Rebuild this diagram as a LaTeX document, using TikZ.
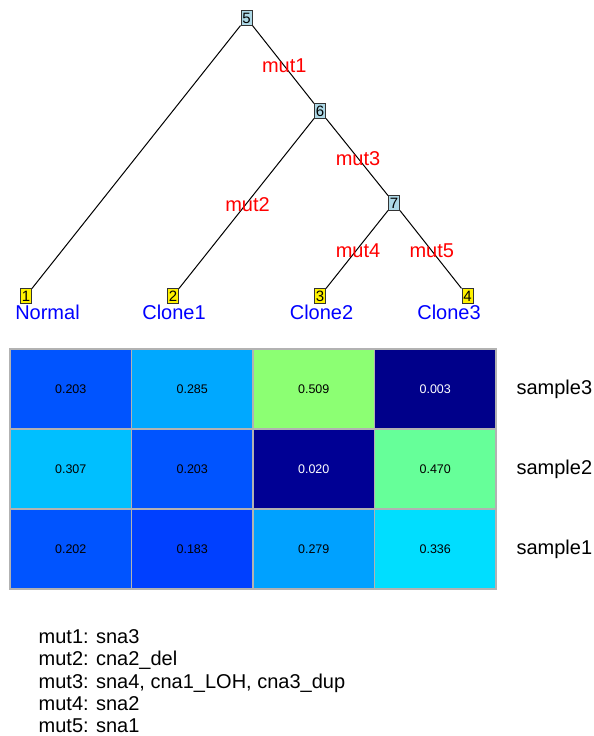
\documentclass[tikz,border=0pt]{standalone}
\usepackage{fontspec}
\setmainfont{Liberation Sans}
\newcommand\labfont{\fontsize{20}{24}\selectfont}
\definecolor{nodeblue}{HTML}{ADD8E6}
\definecolor{v203}{rgb}{0,0.33,1}
\definecolor{v285}{rgb}{0,0.66,1}
\definecolor{v509}{rgb}{0.55,1,0.45}
\definecolor{v003}{rgb}{0,0,0.54}
\definecolor{v307}{rgb}{0,0.75,1}
\definecolor{v020}{rgb}{0,0,0.58}
\definecolor{v470}{rgb}{0.4,1,0.6}
\definecolor{v202}{rgb}{0,0.33,1}
\definecolor{v183}{rgb}{0,0.25,1}
\definecolor{v279}{rgb}{0,0.63,1}
\definecolor{v336}{rgb}{0,0.87,1}
\tikzset{
  ancestor/.style={draw=black!80, line width=1pt, fill=nodeblue, minimum width=11pt,
    minimum height=15pt, inner sep=0pt, font=\fontsize{15}{15}\selectfont},
  leaf/.style={ancestor, fill=yellow},
  branch/.style={line width=1pt},
  mut/.style={midway, text=red, font=\labfont},
  clone/.style={anchor=base, text=blue, font=\labfont},
  cell/.style={draw=black!30, line width=1.2pt, fill=#1, minimum width=121.5pt,
    minimum height=80pt, inner sep=0pt, font=\fontsize{12.5}{15}\selectfont},
  sample/.style={anchor=west, font=\labfont},
  legend/.style={anchor=base west, inner sep=0pt, font=\labfont}
}
\begin{document}
\begin{tikzpicture}[x=1pt,y=-1pt]
\useasboundingbox (0,0) rectangle (594,736);
% tree
\node[ancestor] (n5) at (246.5,18) {5};
\node[ancestor] (n6) at (320,111) {6};
\node[ancestor] (n7) at (394,203) {7};
\node[leaf] (n1) at (26,296) {1};
\node[leaf] (n2) at (173,296) {2};
\node[leaf] (n3) at (320,296) {3};
\node[leaf] (n4) at (467.5,296) {4};
\draw[branch] (n5) -- (n1);
\draw[branch] (n5) -- (n6) node[mut,xshift=1pt,yshift=-1.5pt] {mut1};
\draw[branch] (n6) -- (n2) node[mut,xshift=1pt,yshift=-1.5pt] {mut2};
\draw[branch] (n6) -- (n7) node[mut,xshift=1pt,yshift=-1.5pt] {mut3};
\draw[branch] (n7) -- (n3) node[mut,xshift=1pt,yshift=-1.5pt] {mut4};
\draw[branch] (n7) -- (n4) node[mut,xshift=1pt,yshift=-1.5pt] {mut5};
\node[clone] (l1) at (47.5,319) {Normal};
\node[clone] (l2) at (174,319) {Clone1};
\node[clone] (l3) at (321.5,319) {Clone2};
\node[clone] (l4) at (449,319) {Clone3};
% heatmap
\node[cell=v203] (c31) at (70.75,389) {0.203};
\node[cell=v285] (c32) at (192.25,389) {0.285};
\node[cell=v509] (c33) at (313.75,389) {0.509};
\node[cell=v003,text=white] (c34) at (435.25,389) {0.003};
\node[cell=v307] (c21) at (70.75,469) {0.307};
\node[cell=v203] (c22) at (192.25,469) {0.203};
\node[cell=v020,text=white] (c23) at (313.75,469) {0.020};
\node[cell=v470] (c24) at (435.25,469) {0.470};
\node[cell=v202] (c11) at (70.75,549) {0.202};
\node[cell=v183] (c12) at (192.25,549) {0.183};
\node[cell=v279] (c13) at (313.75,549) {0.279};
\node[cell=v336] (c14) at (435.25,549) {0.336};
\node[sample] (s3) at (513,389) {sample3};
\node[sample] (s2) at (513,469) {sample2};
\node[sample] (s1) at (513,549) {sample1};
% mutations
\node[legend] (m1) at (38.5,643.3) {mut1: sna3};
\node[legend] (m2) at (38.5,665.7) {mut2: cna2\_del};
\node[legend] (m3) at (38.5,688.1) {mut3: sna4, cna1\_LOH, cna3\_dup};
\node[legend] (m4) at (38.5,710.5) {mut4: sna2};
\node[legend] (m5) at (38.5,732.9) {mut5: sna1};
\end{tikzpicture}
\end{document}
